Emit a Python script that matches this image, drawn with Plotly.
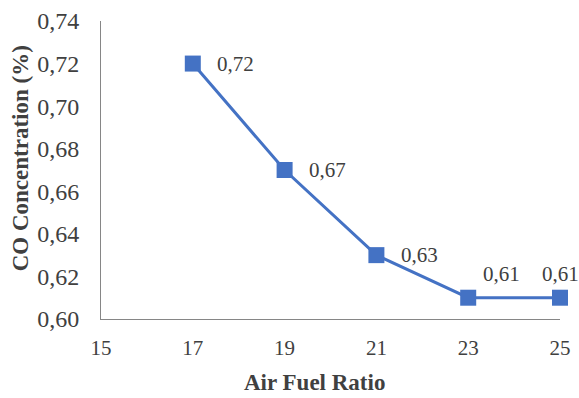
import plotly.graph_objects as go

# Air-fuel ratio vs. CO concentration
air_fuel_ratio = [17, 19, 21, 23, 25]
co_concentration = [0.72, 0.67, 0.63, 0.61, 0.61]
x_ticks = [15, 17, 19, 21, 23, 25]
y_ticks = [0.60, 0.62, 0.64, 0.66, 0.68, 0.70, 0.72, 0.74]

# label placement per point: (xanchor, xshift, yshift)
label_pos = [("left", 22, 0), ("left", 22, 0), ("left", 23, 0),
             ("left", 13, 24), ("center", 0, 24)]

font_family = "Liberation Serif, Times New Roman, serif"
text_color = "#404040"
series_color = "#4472C4"

fig = go.Figure()
fig.add_trace(go.Scatter(
    x=air_fuel_ratio,
    y=co_concentration,
    mode="lines+markers",
    line=dict(color=series_color, width=3),
    marker=dict(symbol="square", size=16, color=series_color),
    cliponaxis=False,
    showlegend=False,
))

for xv, yv, (anchor, dx, dy) in zip(air_fuel_ratio, co_concentration, label_pos):
    fig.add_annotation(
        x=xv, y=yv, text=f"{yv:.2f}".replace(".", ","),
        showarrow=False, xanchor=anchor, yanchor="middle",
        xshift=dx, yshift=dy,
        font=dict(family=font_family, size=21, color=text_color),
    )

# axis titles
fig.add_annotation(
    text="<b>Air Fuel Ratio</b>", xref="paper", yref="paper",
    x=0.466, y=-0.212, xanchor="center", yanchor="middle", showarrow=False,
    borderpad=0,
    font=dict(family=font_family, size=23, color=text_color),
)
fig.add_annotation(
    text="<b>CO Concentration (%)</b>", xref="paper", yref="paper",
    x=-0.176, y=0.54, xanchor="center", yanchor="middle", showarrow=False,
    textangle=-90, borderpad=0,
    font=dict(family=font_family, size=23, color=text_color),
)

fig.update_layout(
    width=579, height=398,
    margin=dict(l=101, r=19, t=21, b=79, autoexpand=False),
    paper_bgcolor="white", plot_bgcolor="white",
    separators=",.",
    font=dict(family=font_family, size=21, color=text_color),
)

fig.update_xaxes(
    range=[15, 25], tickvals=x_ticks, ticktext=[str(t) for t in x_ticks],
    automargin=False,
    showgrid=False, zeroline=False,
    showline=True, linecolor="#868686", linewidth=1,
    ticks="outside", ticklen=10, tickcolor="rgba(0,0,0,0)",
    tickfont=dict(size=21, color=text_color),
)

fig.update_yaxes(
    range=[0.60, 0.74], tickvals=y_ticks, tickformat=".2f",
    automargin=False,
    showgrid=False, zeroline=False,
    showline=True, linecolor="#868686", linewidth=1,
    ticks="outside", ticklen=16, tickcolor="rgba(0,0,0,0)",
    tickfont=dict(size=24, color=text_color),
)

fig.write_html("out.html")
